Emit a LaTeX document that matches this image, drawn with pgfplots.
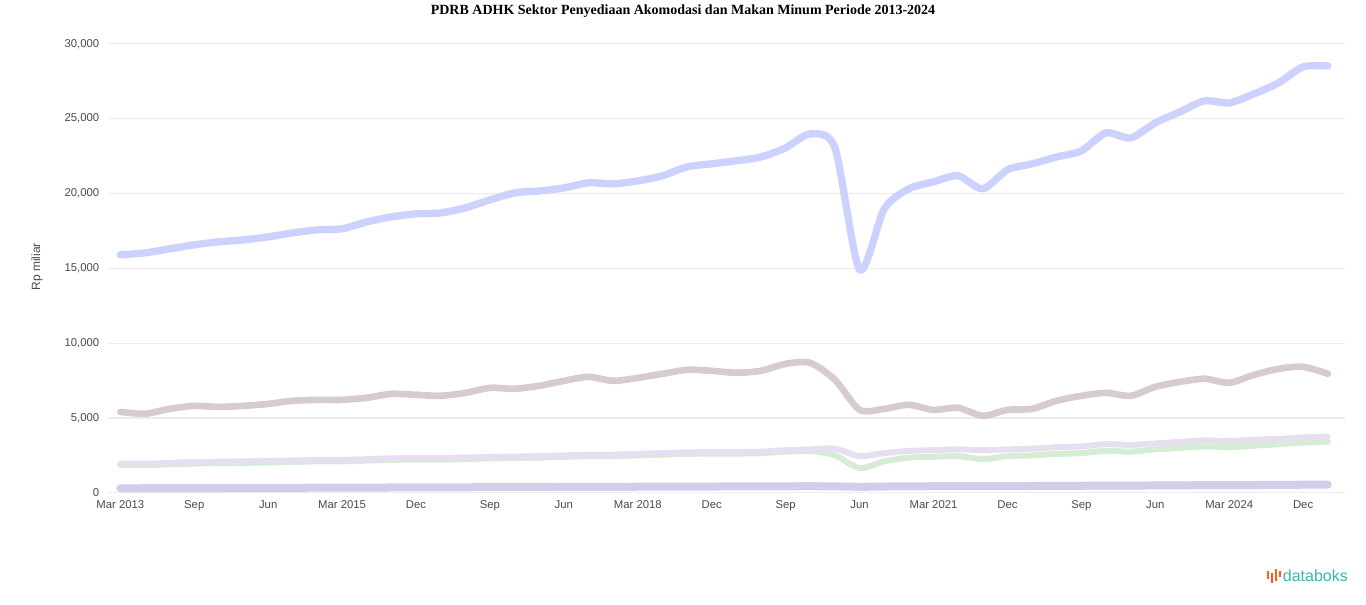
\documentclass[border=0pt]{standalone}
\usepackage{pgfplots}
\usepackage{pgfplotstable}
\usepackage{fontspec}
\setmainfont{Liberation Serif}
\newfontfamily\lsans{Liberation Sans}
\pgfplotsset{compat=1.18}

\definecolor{cA}{HTML}{CBD2FF}
\definecolor{cB}{HTML}{D6CCCC}
\definecolor{cC}{HTML}{E6DFF0}
\definecolor{cD}{HTML}{D4EDD4}
\definecolor{cE}{HTML}{CFCFEA}
\definecolor{tick}{HTML}{4A4A4A}
\definecolor{teal}{HTML}{3DB3B0}

% u = quarter index, values in Rp miliar
\pgfplotstableread{
u  a      b     c     d     e
0  15900  5410  1950  1850  300
1  16030  5280  1950  1850  305
2  16300  5610  2000  1900  310
3  16570  5810  2050  1950  315
4  16770  5740  2080  1980  320
5  16900  5810  2100  2000  325
6  17100  5940  2130  2030  330
7  17370  6150  2160  2060  335
8  17570  6210  2200  2100  340
9  17640  6210  2200  2100  345
10 18100  6350  2250  2150  350
11 18440  6610  2300  2200  355
12 18640  6550  2320  2220  360
13 18700  6480  2320  2220  365
14 19040  6680  2350  2250  370
15 19570  7010  2400  2300  375
16 20040  6950  2420  2320  380
17 20170  7150  2450  2350  385
18 20370  7480  2500  2400  390
19 20710  7750  2550  2450  395
20 20640  7480  2550  2450  400
21 20840  7680  2600  2500  405
22 21180  7950  2650  2550  410
23 21780  8220  2700  2600  415
24 21980  8150  2720  2620  420
25 22180  8020  2720  2620  425
26 22440  8150  2750  2650  430
27 23050  8620  2850  2750  435
28 23980  8680  2900  2800  440
29 23050  7550  2950  2500  430
30 14900  5540  2450  1650  400
31 18970  5610  2650  2100  420
32 20310  5880  2800  2350  430
33 20780  5540  2850  2400  440
34 21180  5680  2900  2450  445
35 20310  5140  2850  2250  440
36 21580  5540  2900  2450  450
37 21980  5610  2950  2500  455
38 22440  6150  3050  2600  460
39 22850  6480  3100  2650  470
40 24050  6680  3250  2800  480
41 23710  6480  3200  2750  485
42 24720  7080  3300  2900  490
43 25450  7410  3400  3000  500
44 26190  7620  3500  3100  510
45 26050  7350  3450  3050  515
46 26650  7880  3550  3150  520
47 27390  8280  3600  3250  530
48 28460  8420  3700  3350  540
49 28520  7950  3750  3400  550
}\pdrb

\begin{document}
\begin{tikzpicture}
\path (0pt,0pt) rectangle (1024.5pt,452.25pt);
\node[font=\bfseries\fontsize{10.5}{12}\selectfont] at (512.25pt,445.5pt) {PDRB ADHK Sektor Penyediaan Akomodasi dan Makan Minum Periode 2013-2024};
\node[rotate=90,font=\lsans\fontsize{9}{11}\selectfont,text=tick] at (27.75pt,253.5pt) {Rp miliar};
\begin{axis}[
  at={(81pt,84pt)}, anchor=south west,
  scale only axis, width=927.75pt, height=336.75pt,
  xmin=-0.5, xmax=49.7, ymin=0, ymax=30000,
  axis line style={draw=none},
  tick style={draw=none},
  ytick={0,5000,10000,15000,20000,25000,30000},
  scaled y ticks=false,
  /pgf/number format/fixed,
  /pgf/number format/1000 sep={,},
  /pgf/number format/assume math mode=true,
  yticklabel style={font=\lsans\fontsize{8.5}{10}\selectfont,text=tick,xshift=-3pt},
  xtick={0,3,...,48},
  xticklabels={Mar 2013,Sep,Jun,Mar 2015,Dec,Sep,Jun,Mar 2018,Dec,Sep,Jun,Mar 2021,Dec,Sep,Jun,Mar 2024,Dec},
  xticklabel style={font=\lsans\fontsize{8.5}{10}\selectfont,text=tick,text height=6.5pt,text depth=2pt,yshift=-2pt},
  ymajorgrids, grid style={draw=black!7, line width=0.8pt},
  clip=false,
  every axis plot/.append style={smooth, tension=0.45, line cap=round, line join=round},
]
\addplot[cE, line width=6pt] table[x=u,y=e] {\pdrb};
\addplot[cD, line width=4.5pt] table[x=u,y=d] {\pdrb};
\addplot[cC, line width=4.5pt] table[x=u,y=c] {\pdrb};
\addplot[cB, line width=5pt] table[x=u,y=b] {\pdrb};
\addplot[cA, line width=5.5pt] table[x=u,y=a] {\pdrb};
\end{axis}
% databoks logo
\fill[orange!80!red] (950pt,19.5pt) rectangle (951.5pt,25.5pt);
\fill[red!70] (953pt,16.5pt) rectangle (954.5pt,24pt);
\fill[orange!80!red] (956pt,18pt) rectangle (957.5pt,27pt);
\fill[red!70] (959pt,21pt) rectangle (960.5pt,25.5pt);
\node[anchor=west,font=\lsans\fontsize{12}{14}\selectfont,text=teal,inner sep=0] at (962pt,21.75pt) {databoks};
\end{tikzpicture}
\end{document}
